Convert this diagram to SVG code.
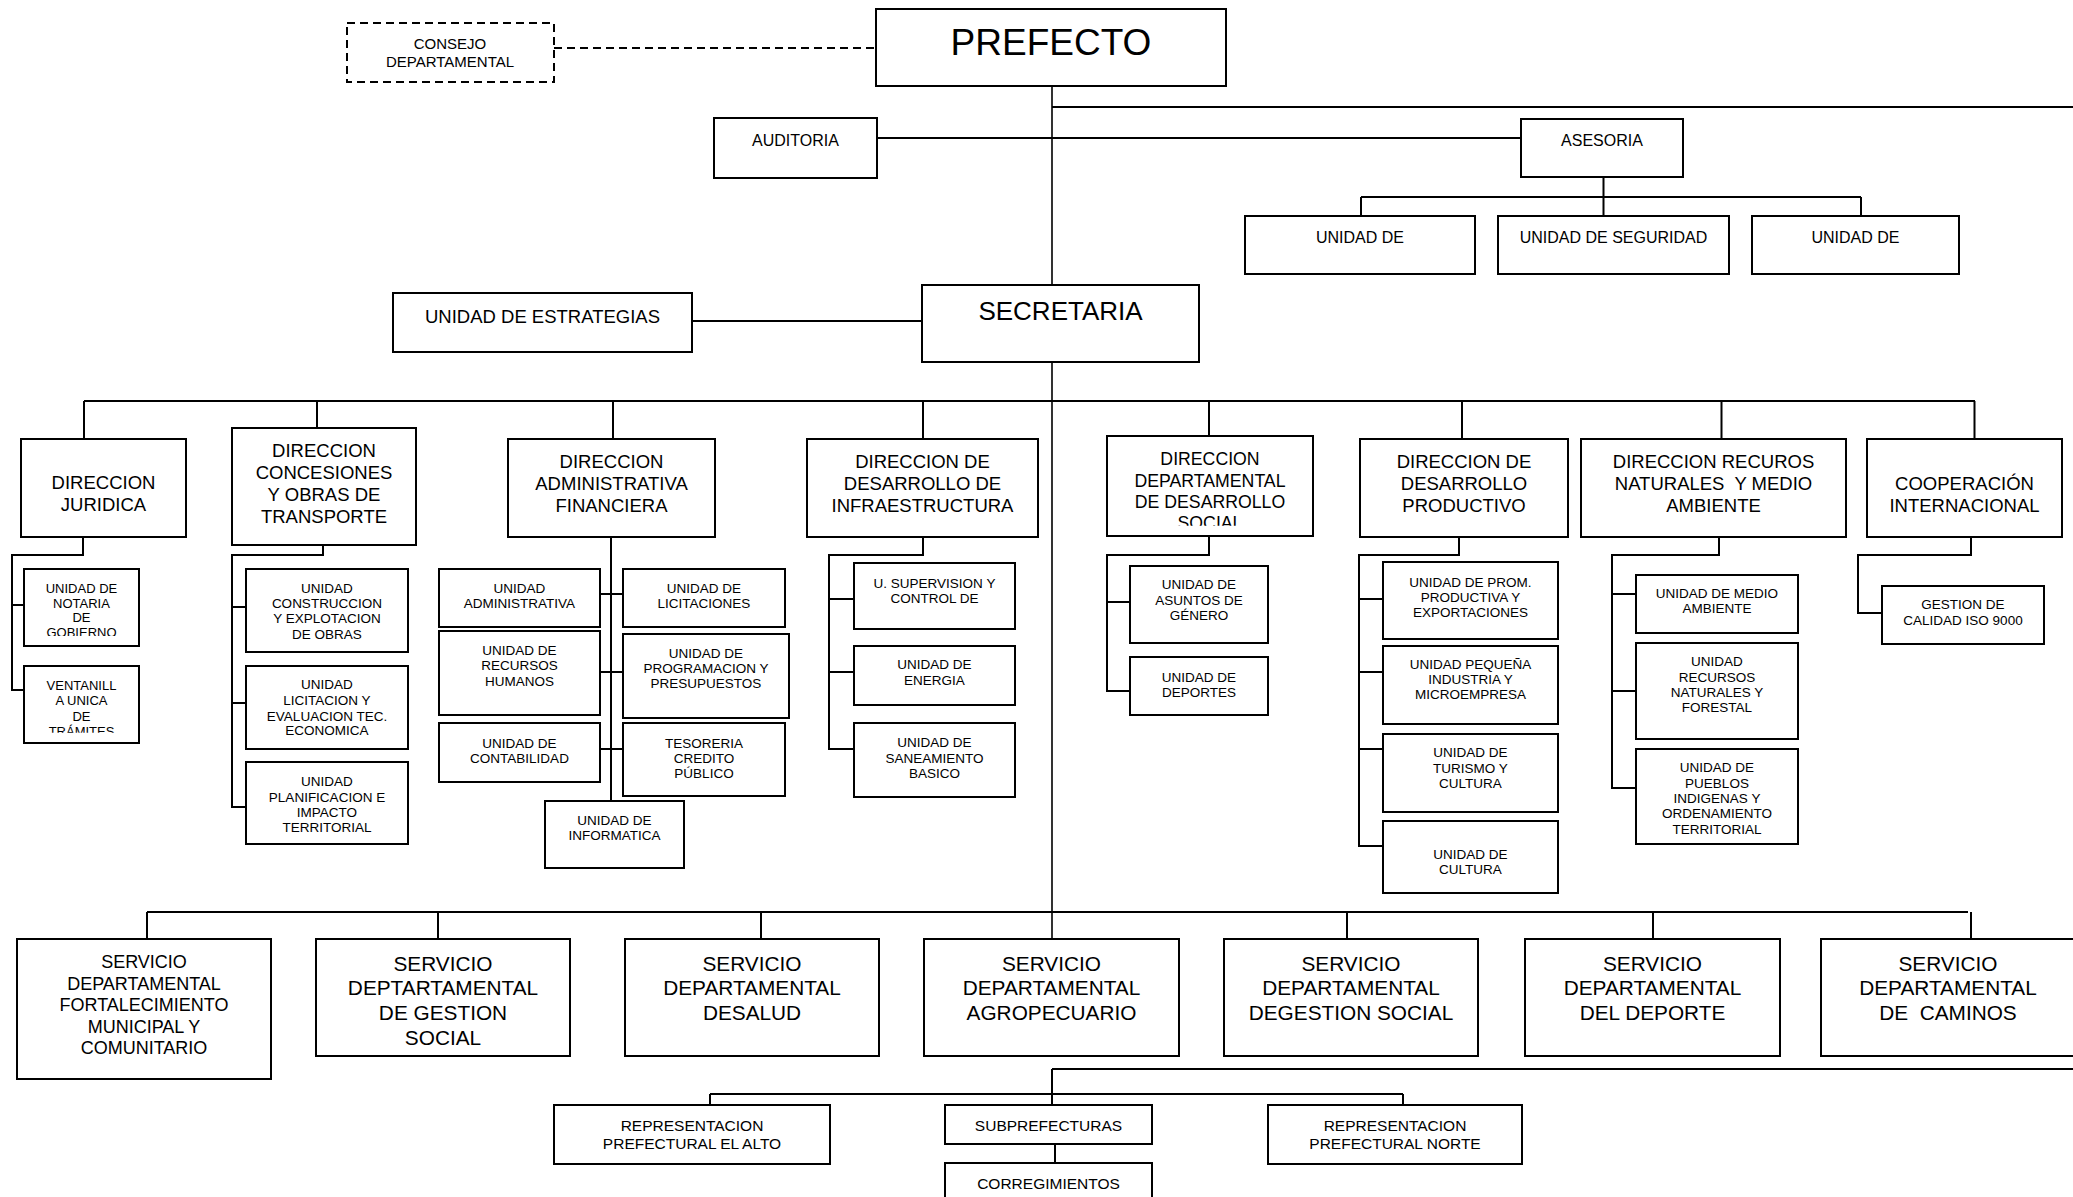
<svg xmlns="http://www.w3.org/2000/svg" width="2073" height="1197" viewBox="0 0 2073 1197">
  <style>
    .b { fill: #fff; stroke: #000; stroke-width: 2; }
    .d { fill: #fff; stroke: #000; stroke-width: 2; stroke-dasharray: 8 5; }
    .c { fill: none; stroke: #000; stroke-width: 2; }
    .t { fill: none; stroke: #000; stroke-width: 1.6; }
    .dl { fill: none; stroke: #000; stroke-width: 2; stroke-dasharray: 8 5; }
    text { font-family: "Liberation Sans", Arial, sans-serif; text-anchor: middle; fill: #000; }
    .f13 { font-size: 13px; }
    .f135 { font-size: 13.5px; }
    .f15 { font-size: 15px; }
    .f155 { font-size: 15.5px; }
    .f16 { font-size: 16px; }
    .f185 { font-size: 18.5px; }
    .f177 { font-size: 17.7px; }
    .f18 { font-size: 18px; }
    .f21 { font-size: 20.8px; }
  </style>
  <defs>
    <clipPath id="clipNotaria"><rect x="24" y="569" width="115" height="67"/></clipPath>
    <clipPath id="clipVentanilla"><rect x="24" y="666" width="115" height="66.7"/></clipPath>
    <clipPath id="clipSocial"><rect x="1107" y="436" width="206" height="89.7"/></clipPath>
  </defs>

  <!-- connectors -->
  <g id="connectors">
    <path class="dl" d="M554 48 H876"/>
    <path class="t" d="M1052 86 V285 M1052 362 V939"/>
    <path class="c" d="M1052 107 H2075"/>
    <path class="c" d="M877 138 H1521"/>
    <path class="c" d="M1603.5 177 V197 M1361 197 H1861 M1361 197 V216 M1603.5 197 V216 M1861 197 V216"/>
    <path class="c" d="M692 321 H922"/>
    <path class="c" d="M84 401 H1975 M84 401 V439 M317 401 V428 M613 401 V439 M923 401 V439 M1209 401 V436 M1462 401 V439 M1721.5 401 V439 M1974.5 401 V439"/>
    <path class="c" d="M83 537 V555 H12 V690 H24 M12 605 H24"/>
    <path class="c" d="M323 545 V555 H232 V807 H246 M232 607 H246 M232 703 H246"/>
    <path class="c" d="M611 537 V801 M600 594 H623 M600 672 H623 M600 749 H623"/>
    <path class="c" d="M923 537 V555 H829 V749 H854 M829 599 H854 M829 672 H854"/>
    <path class="c" d="M1209 536 V555 H1107 V691 H1130 M1107 602 H1130"/>
    <path class="c" d="M1459 537 V555 H1359 V846 H1383 M1359 599 H1383 M1359 672 H1383 M1359 749 H1383"/>
    <path class="c" d="M1719 537 V555 H1612 V788 H1636 M1612 594 H1636 M1612 691 H1636"/>
    <path class="c" d="M1971 537 V555 H1858 V613 H1882"/>
    <path class="c" d="M147 912 H1968 M147 912 V939 M438 912 V939 M761 912 V939 M1347 912 V939 M1653 912 V939 M1971 912 V939"/>
    <path class="c" d="M1052 1069 H2075 M1052 1069 V1105"/>
    <path class="c" d="M710 1094 H1403 M710 1094 V1105 M1403 1094 V1105"/>
    <path class="c" d="M1055 1144 V1163"/>
  </g>

  <!-- top level -->
  <g id="consejo">
    <rect class="d" x="347" y="23" width="207" height="59"/>
    <text class="f15"><tspan x="450" y="49">CONSEJO</tspan><tspan x="450" y="67">DEPARTAMENTAL</tspan></text>
  </g>
  <g id="prefecto">
    <rect class="b" x="876" y="9" width="350" height="77"/>
    <text x="1051" y="55" style="font-size:37px">PREFECTO</text>
  </g>
  <g id="auditoria">
    <rect class="b" x="714" y="118" width="163" height="60"/>
    <text class="f16" x="795.5" y="145.5">AUDITORIA</text>
  </g>
  <g id="asesoria">
    <rect class="b" x="1521" y="119" width="162" height="58"/>
    <text class="f16" x="1602" y="145.5">ASESORIA</text>
  </g>
  <g id="unidad-asesoria-1">
    <rect class="b" x="1245" y="216" width="230" height="58"/>
    <text class="f16" x="1360" y="243">UNIDAD DE</text>
  </g>
  <g id="unidad-seguridad">
    <rect class="b" x="1498" y="216" width="231" height="58"/>
    <text class="f16" x="1613.5" y="243">UNIDAD DE SEGURIDAD</text>
  </g>
  <g id="unidad-asesoria-3">
    <rect class="b" x="1752" y="216" width="207" height="58"/>
    <text class="f16" x="1855.5" y="243">UNIDAD DE</text>
  </g>
  <g id="estrategias">
    <rect class="b" x="393" y="293" width="299" height="59"/>
    <text class="f185" x="542.5" y="322.5">UNIDAD DE ESTRATEGIAS</text>
  </g>
  <g id="secretaria">
    <rect class="b" x="922" y="285" width="277" height="77"/>
    <text x="1060.5" y="320" style="font-size:26px">SECRETARIA</text>
  </g>

  <!-- direcciones -->
  <g id="dir-juridica">
    <rect class="b" x="21" y="439" width="165" height="98"/>
    <text class="f185"><tspan x="103.5" y="489">DIRECCION</tspan><tspan x="103.5" y="511">JURIDICA</tspan></text>
  </g>
  <g id="dir-concesiones">
    <rect class="b" x="232" y="428" width="184" height="117"/>
    <text class="f185"><tspan x="324" y="457.3">DIRECCION</tspan><tspan x="324" y="479">CONCESIONES</tspan><tspan x="324" y="500.5">Y OBRAS DE</tspan><tspan x="324" y="522.5">TRANSPORTE</tspan></text>
  </g>
  <g id="dir-administrativa">
    <rect class="b" x="508" y="439" width="207" height="98"/>
    <text class="f185"><tspan x="611.5" y="468">DIRECCION</tspan><tspan x="611.5" y="490">ADMINISTRATIVA</tspan><tspan x="611.5" y="511.5">FINANCIERA</tspan></text>
  </g>
  <g id="dir-infraestructura">
    <rect class="b" x="807" y="439" width="231" height="98"/>
    <text class="f185"><tspan x="922.5" y="468">DIRECCION DE</tspan><tspan x="922.5" y="490">DESARROLLO DE</tspan><tspan x="922.5" y="511.5">INFRAESTRUCTURA</tspan></text>
  </g>
  <g id="dir-social">
    <rect class="b" x="1107" y="436" width="206" height="100"/>
    <text class="f177" clip-path="url(#clipSocial)"><tspan x="1210" y="465">DIRECCION</tspan><tspan x="1210" y="486.7">DEPARTAMENTAL</tspan><tspan x="1210" y="507.7">DE DESARROLLO</tspan><tspan x="1210" y="529">SOCIAL</tspan></text>
  </g>
  <g id="dir-productivo">
    <rect class="b" x="1360" y="439" width="208" height="98"/>
    <text class="f185"><tspan x="1464" y="468">DIRECCION DE</tspan><tspan x="1464" y="490">DESARROLLO</tspan><tspan x="1464" y="511.5">PRODUCTIVO</tspan></text>
  </g>
  <g id="dir-recursos">
    <rect class="b" x="1581" y="439" width="265" height="98"/>
    <text class="f185" xml:space="preserve"><tspan x="1713.5" y="468">DIRECCION RECUROS</tspan><tspan x="1713.5" y="490">NATURALES  Y MEDIO</tspan><tspan x="1713.5" y="511.5">AMBIENTE</tspan></text>
  </g>
  <g id="cooperacion">
    <rect class="b" x="1867" y="439" width="195" height="98"/>
    <text class="f185"><tspan x="1964.5" y="490">COOPERACIÓN</tspan><tspan x="1964.5" y="511.5">INTERNACIONAL</tspan></text>
  </g>

  <!-- unidades: juridica -->
  <g id="u-notaria">
    <rect class="b" x="24" y="569" width="115" height="77"/>
    <text class="f13" clip-path="url(#clipNotaria)"><tspan x="81.5" y="593">UNIDAD DE</tspan><tspan x="81.5" y="607.5">NOTARIA</tspan><tspan x="81.5" y="622.3">DE</tspan><tspan x="81.5" y="637">GOBIERNO</tspan></text>
  </g>
  <g id="u-ventanilla">
    <rect class="b" x="24" y="666" width="115" height="77"/>
    <text class="f13" clip-path="url(#clipVentanilla)"><tspan x="81.5" y="689.7">VENTANILL</tspan><tspan x="81.5" y="705">A UNICA</tspan><tspan x="81.5" y="720.7">DE</tspan><tspan x="81.5" y="736">TRÁMITES</tspan></text>
  </g>

  <!-- unidades: concesiones -->
  <g id="u-construccion">
    <rect class="b" x="246" y="569" width="162" height="83"/>
    <text class="f135"><tspan x="327" y="592.7">UNIDAD</tspan><tspan x="327" y="607.7">CONSTRUCCION</tspan><tspan x="327" y="623.3">Y EXPLOTACION</tspan><tspan x="327" y="638.7">DE OBRAS</tspan></text>
  </g>
  <g id="u-licitacion-evaluacion">
    <rect class="b" x="246" y="666" width="162" height="83"/>
    <text class="f135"><tspan x="327" y="689.3">UNIDAD</tspan><tspan x="327" y="704.7">LICITACION Y</tspan><tspan x="327" y="720.7">EVALUACION TEC.</tspan><tspan x="327" y="735.3">ECONOMICA</tspan></text>
  </g>
  <g id="u-planificacion">
    <rect class="b" x="246" y="762" width="162" height="82"/>
    <text class="f135"><tspan x="327" y="786.3">UNIDAD</tspan><tspan x="327" y="801.7">PLANIFICACION E</tspan><tspan x="327" y="816.7">IMPACTO</tspan><tspan x="327" y="832.3">TERRITORIAL</tspan></text>
  </g>

  <!-- unidades: administrativa financiera -->
  <g id="u-administrativa">
    <rect class="b" x="439" y="569" width="161" height="58"/>
    <text class="f135"><tspan x="519.5" y="592.7">UNIDAD</tspan><tspan x="519.5" y="607.7">ADMINISTRATIVA</tspan></text>
  </g>
  <g id="u-licitaciones">
    <rect class="b" x="623" y="569" width="162" height="58"/>
    <text class="f135"><tspan x="704" y="592.7">UNIDAD DE</tspan><tspan x="704" y="607.7">LICITACIONES</tspan></text>
  </g>
  <g id="u-rrhh">
    <rect class="b" x="439" y="631" width="161" height="84"/>
    <text class="f135"><tspan x="519.5" y="655">UNIDAD DE</tspan><tspan x="519.5" y="670.3">RECURSOS</tspan><tspan x="519.5" y="686">HUMANOS</tspan></text>
  </g>
  <g id="u-programacion">
    <rect class="b" x="623" y="634" width="166" height="84"/>
    <text class="f135"><tspan x="706" y="657.7">UNIDAD DE</tspan><tspan x="706" y="672.7">PROGRAMACION Y</tspan><tspan x="706" y="688">PRESUPUESTOS</tspan></text>
  </g>
  <g id="u-contabilidad">
    <rect class="b" x="439" y="723" width="161" height="59"/>
    <text class="f135"><tspan x="519.5" y="747.7">UNIDAD DE</tspan><tspan x="519.5" y="762.7">CONTABILIDAD</tspan></text>
  </g>
  <g id="u-tesoreria">
    <rect class="b" x="623" y="723" width="162" height="73"/>
    <text class="f135"><tspan x="704" y="747.7">TESORERIA</tspan><tspan x="704" y="762.7">CREDITO</tspan><tspan x="704" y="778.3">PÚBLICO</tspan></text>
  </g>
  <g id="u-informatica">
    <rect class="b" x="545" y="801" width="139" height="67"/>
    <text class="f135"><tspan x="614.5" y="824.7">UNIDAD DE</tspan><tspan x="614.5" y="840">INFORMATICA</tspan></text>
  </g>

  <!-- unidades: infraestructura -->
  <g id="u-supervision">
    <rect class="b" x="854" y="563" width="161" height="66"/>
    <text class="f135"><tspan x="934.5" y="587.7">U. SUPERVISION Y</tspan><tspan x="934.5" y="603.3">CONTROL DE</tspan></text>
  </g>
  <g id="u-energia">
    <rect class="b" x="854" y="646" width="161" height="59"/>
    <text class="f135"><tspan x="934.5" y="669.3">UNIDAD DE</tspan><tspan x="934.5" y="685">ENERGIA</tspan></text>
  </g>
  <g id="u-saneamiento">
    <rect class="b" x="854" y="723" width="161" height="74"/>
    <text class="f135"><tspan x="934.5" y="747.3">UNIDAD DE</tspan><tspan x="934.5" y="762.7">SANEAMIENTO</tspan><tspan x="934.5" y="778">BASICO</tspan></text>
  </g>

  <!-- unidades: desarrollo social -->
  <g id="u-genero">
    <rect class="b" x="1130" y="566" width="138" height="77"/>
    <text class="f135"><tspan x="1199" y="589.3">UNIDAD DE</tspan><tspan x="1199" y="604.7">ASUNTOS DE</tspan><tspan x="1199" y="620">GÉNERO</tspan></text>
  </g>
  <g id="u-deportes">
    <rect class="b" x="1130" y="657" width="138" height="58"/>
    <text class="f135"><tspan x="1199" y="681.7">UNIDAD DE</tspan><tspan x="1199" y="696.7">DEPORTES</tspan></text>
  </g>

  <!-- unidades: desarrollo productivo -->
  <g id="u-promocion">
    <rect class="b" x="1383" y="562" width="175" height="77"/>
    <text class="f135"><tspan x="1470.5" y="586.7">UNIDAD DE PROM.</tspan><tspan x="1470.5" y="601.7">PRODUCTIVA Y</tspan><tspan x="1470.5" y="616.7">EXPORTACIONES</tspan></text>
  </g>
  <g id="u-pequena-industria">
    <rect class="b" x="1383" y="646" width="175" height="78"/>
    <text class="f135"><tspan x="1470.5" y="669.3">UNIDAD PEQUEÑA</tspan><tspan x="1470.5" y="684.3">INDUSTRIA Y</tspan><tspan x="1470.5" y="699.3">MICROEMPRESA</tspan></text>
  </g>
  <g id="u-turismo">
    <rect class="b" x="1383" y="734" width="175" height="78"/>
    <text class="f135"><tspan x="1470.5" y="757.3">UNIDAD DE</tspan><tspan x="1470.5" y="773.3">TURISMO Y</tspan><tspan x="1470.5" y="788.3">CULTURA</tspan></text>
  </g>
  <g id="u-cultura">
    <rect class="b" x="1383" y="821" width="175" height="72"/>
    <text class="f135"><tspan x="1470.5" y="859">UNIDAD DE</tspan><tspan x="1470.5" y="874.3">CULTURA</tspan></text>
  </g>

  <!-- unidades: recursos naturales -->
  <g id="u-medio-ambiente">
    <rect class="b" x="1636" y="575" width="162" height="58"/>
    <text class="f135"><tspan x="1717" y="598.3">UNIDAD DE MEDIO</tspan><tspan x="1717" y="613.3">AMBIENTE</tspan></text>
  </g>
  <g id="u-recursos-forestal">
    <rect class="b" x="1636" y="643" width="162" height="96"/>
    <text class="f135"><tspan x="1717" y="666">UNIDAD</tspan><tspan x="1717" y="681.7">RECURSOS</tspan><tspan x="1717" y="697.3">NATURALES Y</tspan><tspan x="1717" y="712.3">FORESTAL</tspan></text>
  </g>
  <g id="u-pueblos">
    <rect class="b" x="1636" y="749" width="162" height="95"/>
    <text class="f135"><tspan x="1717" y="772.3">UNIDAD DE</tspan><tspan x="1717" y="788">PUEBLOS</tspan><tspan x="1717" y="803">INDIGENAS Y</tspan><tspan x="1717" y="818.3">ORDENAMIENTO</tspan><tspan x="1717" y="834">TERRITORIAL</tspan></text>
  </g>

  <!-- unidades: cooperacion -->
  <g id="u-iso">
    <rect class="b" x="1882" y="586" width="162" height="58"/>
    <text class="f135"><tspan x="1963" y="609">GESTION DE</tspan><tspan x="1963" y="625">CALIDAD ISO 9000</tspan></text>
  </g>

  <!-- servicios departamentales -->
  <g id="s-fortalecimiento">
    <rect class="b" x="17" y="939" width="254" height="140"/>
    <text class="f18"><tspan x="144" y="968.3">SERVICIO</tspan><tspan x="144" y="990">DEPARTAMENTAL</tspan><tspan x="144" y="1011.3">FORTALECIMIENTO</tspan><tspan x="144" y="1033.3">MUNICIPAL Y</tspan><tspan x="144" y="1054">COMUNITARIO</tspan></text>
  </g>
  <g id="s-gestion-social">
    <rect class="b" x="316" y="939" width="254" height="117"/>
    <text class="f21"><tspan x="443" y="970.7">SERVICIO</tspan><tspan x="443" y="995.3">DEPTARTAMENTAL</tspan><tspan x="443" y="1020">DE GESTION</tspan><tspan x="443" y="1044.7">SOCIAL</tspan></text>
  </g>
  <g id="s-salud">
    <rect class="b" x="625" y="939" width="254" height="117"/>
    <text class="f21"><tspan x="752" y="970.7">SERVICIO</tspan><tspan x="752" y="995.3">DEPARTAMENTAL</tspan><tspan x="752" y="1020">DESALUD</tspan></text>
  </g>
  <g id="s-agropecuario">
    <rect class="b" x="924" y="939" width="255" height="117"/>
    <text class="f21"><tspan x="1051.5" y="970.7">SERVICIO</tspan><tspan x="1051.5" y="995.3">DEPARTAMENTAL</tspan><tspan x="1051.5" y="1020">AGROPECUARIO</tspan></text>
  </g>
  <g id="s-degestion-social">
    <rect class="b" x="1224" y="939" width="254" height="117"/>
    <text class="f21"><tspan x="1351" y="970.7">SERVICIO</tspan><tspan x="1351" y="995.3">DEPARTAMENTAL</tspan><tspan x="1351" y="1020">DEGESTION SOCIAL</tspan></text>
  </g>
  <g id="s-deporte">
    <rect class="b" x="1525" y="939" width="255" height="117"/>
    <text class="f21"><tspan x="1652.5" y="970.7">SERVICIO</tspan><tspan x="1652.5" y="995.3">DEPARTAMENTAL</tspan><tspan x="1652.5" y="1020">DEL DEPORTE</tspan></text>
  </g>
  <g id="s-caminos">
    <rect class="b" x="1821" y="939" width="254" height="117"/>
    <text class="f21" xml:space="preserve"><tspan x="1948" y="970.7">SERVICIO</tspan><tspan x="1948" y="995.3">DEPARTAMENTAL</tspan><tspan x="1948" y="1020">DE  CAMINOS</tspan></text>
  </g>

  <!-- representaciones -->
  <g id="r-el-alto">
    <rect class="b" x="554" y="1105" width="276" height="59"/>
    <text class="f155"><tspan x="692" y="1130.7">REPRESENTACION</tspan><tspan x="692" y="1148.7">PREFECTURAL EL ALTO</tspan></text>
  </g>
  <g id="subprefecturas">
    <rect class="b" x="945" y="1105" width="207" height="39"/>
    <text class="f155" x="1048.5" y="1130.7">SUBPREFECTURAS</text>
  </g>
  <g id="corregimientos">
    <rect class="b" x="945" y="1163" width="207" height="44"/>
    <text class="f155" x="1048.5" y="1189">CORREGIMIENTOS</text>
  </g>
  <g id="r-norte">
    <rect class="b" x="1268" y="1105" width="254" height="59"/>
    <text class="f155"><tspan x="1395" y="1130.7">REPRESENTACION</tspan><tspan x="1395" y="1148.7">PREFECTURAL NORTE</tspan></text>
  </g>
</svg>
